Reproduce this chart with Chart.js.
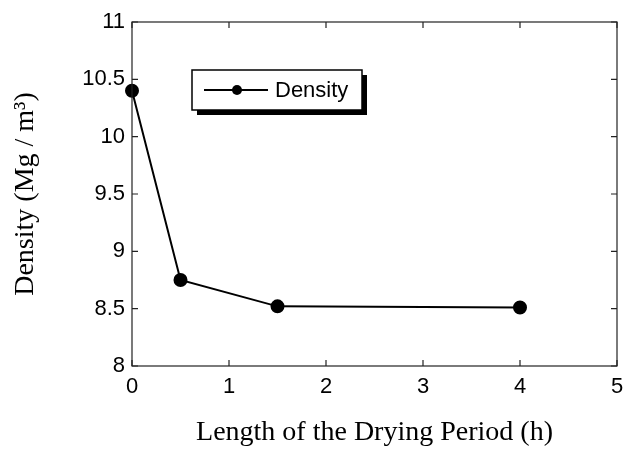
<!DOCTYPE html>
<html>
<head>
<meta charset="utf-8">
<script src="https://cdn.jsdelivr.net/npm/chart.js@4.4.1/dist/chart.umd.min.js"></script>
<style>
  html, body { margin: 0; padding: 0; background: #fff; }
  #wrap { width: 625px; height: 449px; }
</style>
</head>
<body>
<div id="wrap"><canvas id="densityChart" width="625" height="449"></canvas></div>
<script>
// drying time (h) vs density
const dryingHours = [0, 0.5, 1.5, 4];
const densityValues = [10.4, 8.75, 8.52, 8.51];
const xTicks = [0, 1, 2, 3, 4, 5];
const yTicks = [8, 8.5, 9, 9.5, 10, 10.5, 11];

const sansFamily = "Liberation Sans, Arial, sans-serif";
const tickFont = { family: sansFamily, size: 22 };
const titleFont = { family: "Liberation Serif, serif", size: 28 };

// matlab-ish frame: box around the plot with ticks pointing inward, plus a boxed legend
const framePlugin = {
  id: "frame",
  afterDatasetsDraw(chart) {
    const { ctx, chartArea: a, scales } = chart;
    ctx.save();
    ctx.strokeStyle = "#222";
    ctx.lineWidth = 1.2;
    ctx.strokeRect(a.left, a.top, a.right - a.left, a.bottom - a.top);
    const len = 6;
    ctx.beginPath();
    xTicks.forEach(v => {
      const x = scales.x.getPixelForValue(v);
      ctx.moveTo(x, a.bottom); ctx.lineTo(x, a.bottom - len);
      ctx.moveTo(x, a.top); ctx.lineTo(x, a.top + len);
    });
    yTicks.forEach(v => {
      const y = scales.y.getPixelForValue(v);
      ctx.moveTo(a.left, y); ctx.lineTo(a.left + len, y);
      ctx.moveTo(a.right, y); ctx.lineTo(a.right - len, y);
    });
    ctx.stroke();

    // legend box with drop shadow
    const lx = 192, ly = 70, lw = 170, lh = 40, sh = 5;
    ctx.fillStyle = "#000";
    ctx.fillRect(lx + sh, ly + sh, lw, lh);
    ctx.fillStyle = "#fff";
    ctx.fillRect(lx, ly, lw, lh);
    ctx.strokeStyle = "#000";
    ctx.lineWidth = 1.5;
    ctx.strokeRect(lx, ly, lw, lh);
    const my = ly + lh / 2;
    ctx.lineWidth = 2;
    ctx.beginPath();
    ctx.moveTo(lx + 12, my); ctx.lineTo(lx + 76, my);
    ctx.stroke();
    ctx.fillStyle = "#000";
    ctx.beginPath();
    ctx.arc(lx + 45, my, 5, 0, Math.PI * 2);
    ctx.fill();
    ctx.font = "22px " + sansFamily;
    ctx.textBaseline = "middle";
    ctx.fillText(chart.data.datasets[0].label, lx + 83, my + 1);
    ctx.restore();
  }
};

new Chart(document.getElementById("densityChart"), {
  type: "scatter",
  data: {
    datasets: [{
      label: "Density",
      data: dryingHours.map((h, i) => ({ x: h, y: densityValues[i] })),
      showLine: true,
      borderColor: "#000",
      backgroundColor: "#000",
      borderWidth: 2,
      pointRadius: 6,
      pointHoverRadius: 6,
      clip: false
    }]
  },
  options: {
    responsive: false,
    animation: false,
    layout: { padding: { left: 0, right: 8, top: 22, bottom: 0 } },
    plugins: { legend: { display: false }, tooltip: { enabled: false } },
    scales: {
      x: {
        type: "linear",
        min: 0, max: 5,
        afterBuildTicks: s => { s.ticks = xTicks.map(v => ({ value: v })); },
        afterFit: s => { s.height = 83; s.paddingLeft = 0; s.paddingRight = 0; },
        grid: { display: false, drawTicks: false },
        border: { display: false },
        ticks: { color: "#000", font: tickFont, padding: 8, maxRotation: 0, callback: v => String(v) },
        title: { display: true, text: "Length of the Drying Period (h)", color: "#000", font: titleFont, padding: { top: 10, bottom: 0 } }
      },
      y: {
        type: "linear",
        min: 8, max: 11,
        afterBuildTicks: s => { s.ticks = yTicks.map(v => ({ value: v })); },
        afterFit: s => { s.width = 132; },
        grid: { display: false, drawTicks: false },
        border: { display: false },
        ticks: { color: "#000", font: tickFont, padding: 7, callback: v => String(v) },
        title: { display: true, text: "Density (Mg / m\u00B3)", color: "#000", font: titleFont, padding: { top: 9, bottom: 10 } }
      }
    }
  },
  plugins: [framePlugin]
});
</script>
</body>
</html>
